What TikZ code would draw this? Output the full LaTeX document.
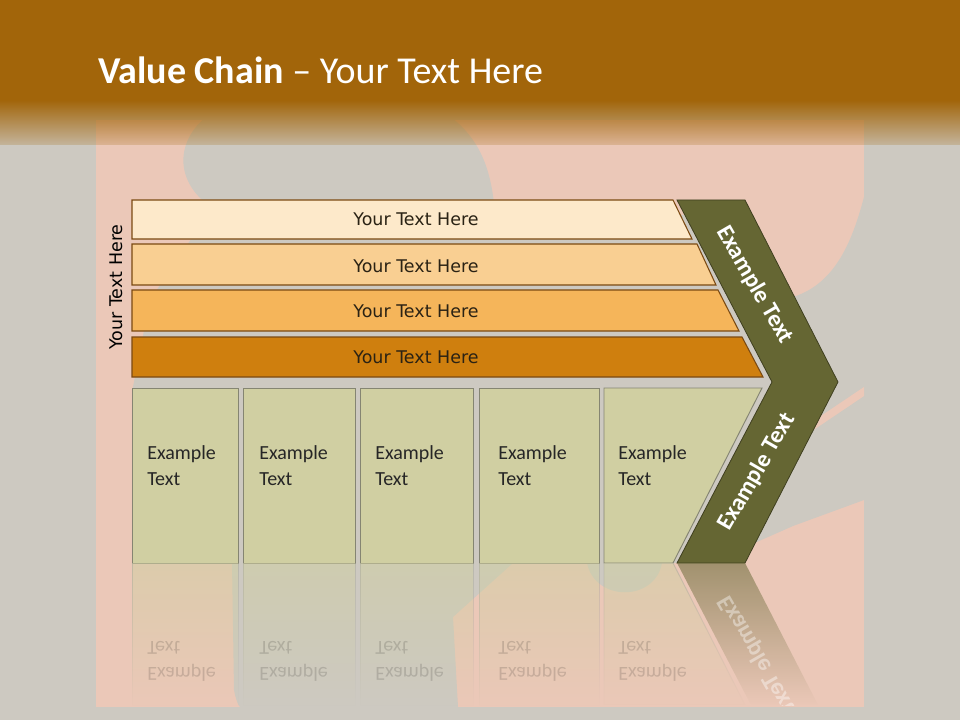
\documentclass[tikz,border=0pt]{standalone}
\usepackage{fontspec}
\setmainfont{Carlito}
\newfontfamily\barfont{DejaVu Sans}
\usetikzlibrary{fadings}
\tikzfading[name=hdrfade, top color=transparent!0, bottom color=transparent!80]
\tikzfading[name=reflfade, top color=transparent!45, bottom color=transparent!100]
\definecolor{bggray}{HTML}{CDC9C1}
\definecolor{pinkc}{HTML}{EBC8B8}
\definecolor{hdrbrown}{HTML}{A2650A}
\definecolor{barA}{HTML}{FDE9CA}
\definecolor{barB}{HTML}{F9CF92}
\definecolor{barC}{HTML}{F5B55A}
\definecolor{barD}{HTML}{CF7F0E}
\definecolor{baredge}{HTML}{7B4A12}
\definecolor{olive}{HTML}{656633}
\definecolor{oliveedge}{HTML}{3F3F1F}
\definecolor{boxfill}{HTML}{D0CFA2}
\definecolor{boxedge}{HTML}{858572}
\definecolor{bartext}{HTML}{2A2214}
\begin{document}
\begin{tikzpicture}[x=0.75pt,y=-0.75pt,
  barshape/.style={fill=#1, draw=baredge, line width=0.8pt},
  bartxt/.style={font=\barfont\fontsize{13.1}{15}\selectfont, text=bartext, inner sep=0pt},
  boxshape/.style={fill=boxfill, draw=boxedge, line width=0.7pt},
  boxtxt/.style={font=\fontsize{15}{19.5}\selectfont, text=black!85, anchor=base west, inner sep=0pt},
  chevtxt/.style={font=\bfseries\fontsize{18}{21}\selectfont, text=white, inner sep=0pt},
  refltxt/.style={font=\fontsize{15}{19.5}\selectfont, text=black, opacity=0.14, anchor=base west, inner sep=0pt},
  reflbox/.style={fill=boxfill, draw=boxedge!70, line width=0.7pt, path fading=reflfade}
]
\useasboundingbox (0,0) rectangle (960,720);
% background
\fill[bggray] (0,0) rectangle (960,720);
\fill[pinkc] (96,120) rectangle (864,707);
% silhouette
\fill[bggray] (205,118) .. controls (178,140) and (172,180) .. (212,208)
  -- (150,300) -- (132,392) -- (232,563) -- (234,690)
  .. controls (236,700) and (238,705) .. (240,707) -- (458,707) -- (453,617) -- (513,563)
  -- (587,563) .. controls (595,602) and (655,602) .. (662,563)
  -- (700,563) -- (750,545) -- (793,526) -- (864,500) -- (864,197)
  .. controls (850,250) and (830,292) .. (780,300) -- (700,215) -- (495,215)
  .. controls (492,170) and (480,140) .. (452,118) -- cycle;
\fill[pinkc] (806,426) -- (864,387) -- (864,396) -- (812,431) -- cycle;
% header
\fill[hdrbrown] (0,0) rectangle (960,100);
\fill[hdrbrown, path fading=hdrfade] (0,100) rectangle (960,145);
\node[anchor=base west, inner sep=0pt, text=white, font=\fontsize{28.5}{33}\selectfont] (title) at (98,84)
  {\textbf{Value Chain} -- Your Text Here};
% bars
\path[barshape=barA] (132,200) -- (673,200) -- (692,239) -- (132,239) -- cycle;
\path[barshape=barB] (132,244) -- (697,244) -- (716,285) -- (132,285) -- cycle;
\path[barshape=barC] (132,290) -- (718,290) -- (739,331) -- (132,331) -- cycle;
\path[barshape=barD] (132,337) -- (742,337) -- (763,377) -- (132,377) -- cycle;
\node[bartxt] (b1) at (416,219) {Your Text Here};
\node[bartxt] (b2) at (416,266) {Your Text Here};
\node[bartxt] (b3) at (416,311) {Your Text Here};
\node[bartxt] (b4) at (416,357) {Your Text Here};
\node[bartxt, text=black, rotate=90] (side) at (116,287) {Your Text Here};
% chevron
\path[fill=olive, draw=oliveedge, line width=0.6pt] (677,200) -- (745,200) -- (838,382) -- (745,563) -- (677,563) -- (772,382) -- cycle;
\node[chevtxt, rotate=-60] (c1) at (755,285) {Example Text};
\node[chevtxt, rotate=60] (c2) at (757,472) {Example Text};
% boxes
\path[boxshape] (132,388) rectangle (238,563);
\path[boxshape] (243,388) rectangle (355,563);
\path[boxshape] (360,388) rectangle (473,563);
\path[boxshape] (479,388) rectangle (599,563);
\path[boxshape] (604,388) -- (762,388) -- (673,563) -- (604,563) -- cycle;
\foreach \x/\n in {147/1,259/2,375/3,498/4,618/5}{
  \node[boxtxt] (e\n) at (\x,459) {Example};
  \node[boxtxt] (t\n) at (\x,485) {Text};
}
% reflection
\begin{scope}
\clip (96,563) rectangle (864,705);
\path[reflbox] (132,563) rectangle (238,705);
\path[reflbox] (243,563) rectangle (355,705);
\path[reflbox] (360,563) rectangle (473,705);
\path[reflbox] (479,563) rectangle (599,705);
\path[reflbox] (604,563) -- (673,563) -- (745,705) -- (604,705) -- cycle;
\path[fill=olive, path fading=reflfade] (677,563) -- (745,563) -- (818,705) -- (751,705) -- cycle;
\foreach \x/\n in {147/1,259/2,375/3,498/4,618/5}{
  \node[refltxt] (re\n) at (\x,667) {\scalebox{1}[-1]{Example}};
  \node[refltxt] (rt\n) at (\x,641) {\scalebox{1}[-1]{Text}};
}
\node[chevtxt, rotate=-60, opacity=0.4] (rc) at (757,654) {\scalebox{1}[-1]{Example Text}};
\end{scope}
\end{tikzpicture}
\end{document}
